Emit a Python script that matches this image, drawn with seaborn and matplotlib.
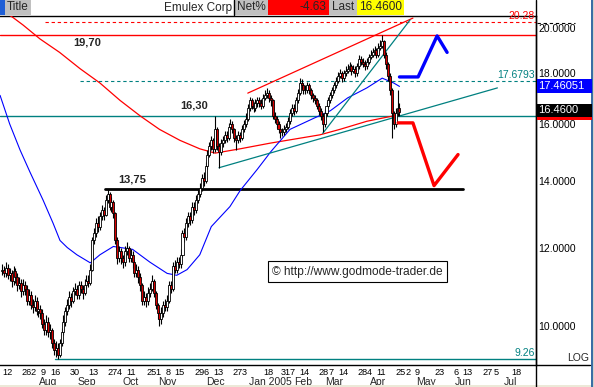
import numpy as np
import pandas as pd
import matplotlib
matplotlib.use("Agg")
import matplotlib.pyplot as plt
import matplotlib.transforms as mtransforms
from matplotlib.patches import Rectangle
from matplotlib.lines import Line2D
from matplotlib.ticker import NullLocator, NullFormatter
import seaborn as sns

# ---------------- data ----------------
START = "2004-07-12"
first_open = 11.35
close = [11.40, 11.30, 11.45, 11.25, 11.30, 11.10, 11.35, 11.20, 11.00, 11.05,
         10.85, 11.00, 10.90, 10.60, 10.75, 10.50, 10.45, 10.60, 10.35, 10.40,
         10.30, 10.05, 9.90, 10.10, 9.85, 9.90, 9.60, 9.45, 9.50, 9.35,
         9.60, 9.85, 10.10, 10.35, 10.50, 10.70, 10.60, 10.85, 10.90, 10.75,
         11.00, 10.90, 10.80, 11.00, 11.10, 11.05, 11.40, 12.20, 12.40, 12.70,
         12.60, 12.90, 13.10, 12.95, 13.40, 13.60, 13.20, 13.35, 13.00, 12.20,
         11.70, 11.90, 11.70, 11.60, 11.90, 12.00, 11.70, 11.80, 11.60, 11.30,
         11.40, 11.20, 11.00, 10.60, 10.70, 10.60, 10.80, 10.90, 11.10, 10.80,
         10.50, 10.30, 10.15, 10.30, 10.50, 10.45, 10.60, 11.00, 10.90, 11.50,
         11.40, 11.60, 11.55, 11.80, 12.40, 12.30, 12.70, 12.90, 12.80, 13.20,
         13.10, 13.40, 13.60, 13.80, 14.10, 14.00, 14.50, 14.90, 15.20, 15.40,
         15.10, 15.80, 15.20, 15.00, 15.30, 15.40, 15.60, 15.50, 15.90, 16.00,
         15.80, 15.50, 15.40, 15.60, 15.50, 15.80, 16.00, 16.20, 16.60, 16.90,
         16.70, 16.60, 16.80, 16.90, 16.80, 16.70, 17.00, 17.10, 17.20, 17.00,
         16.90, 16.30, 16.20, 16.00, 15.80, 15.70, 15.70, 15.80, 15.90, 16.10,
         16.40, 16.60, 16.50, 16.90, 17.20, 17.60, 17.50, 17.30, 17.30, 17.50,
         17.30, 17.10, 17.00, 16.90, 16.70, 16.50, 16.30, 16.00, 16.40, 16.70,
         16.90, 17.10, 17.30, 17.50, 17.70, 17.90, 18.00, 17.80, 18.00, 18.10,
         18.20, 18.30, 18.10, 18.20, 18.00, 18.30, 18.60, 18.50, 18.40, 18.30,
         18.50, 18.70, 18.80, 18.90, 19.00, 18.80, 19.10, 19.20, 19.40, 18.80,
         18.40, 17.90, 17.30, 16.40, 16.00, 16.40, 16.60, 16.46]
high = [11.55, 11.50, 11.60, 11.55, 11.45, 11.40, 11.50, 11.45, 11.30, 11.20,
        11.15, 11.15, 11.10, 11.00, 10.90, 10.85, 10.65, 10.75, 10.70, 10.55,
        10.50, 10.40, 10.15, 10.25, 10.20, 10.05, 9.95, 9.70, 9.65, 9.60,
        9.70, 9.95, 10.25, 10.45, 10.65, 10.85, 10.80, 10.95, 11.05, 11.00,
        11.10, 11.10, 11.00, 11.15, 11.25, 11.25, 11.55, 12.30, 12.55, 12.85,
        12.90, 13.05, 13.25, 13.20, 13.55, 13.75, 13.65, 13.50, 13.40, 13.05,
        12.30, 12.05, 12.00, 11.80, 12.05, 12.15, 12.05, 11.95, 11.90, 11.65,
        11.55, 11.50, 11.30, 11.05, 10.85, 10.80, 10.95, 11.05, 11.25, 11.15,
        10.85, 10.55, 10.35, 10.45, 10.60, 10.65, 10.75, 11.10, 11.10, 11.60,
        11.65, 11.75, 11.75, 11.95, 12.50, 12.55, 12.85, 13.05, 13.05, 13.35,
        13.35, 13.55, 13.75, 13.95, 14.25, 14.30, 14.65, 15.05, 15.35, 15.55,
        15.50, 16.30, 15.90, 15.30, 15.45, 15.55, 15.75, 15.75, 16.05, 16.20,
        16.10, 15.85, 15.60, 15.75, 15.70, 15.95, 16.15, 16.40, 16.75, 17.05,
        17.00, 16.85, 16.95, 17.05, 17.05, 16.95, 17.15, 17.30, 17.40, 17.30,
        17.10, 16.95, 16.45, 16.30, 16.10, 15.95, 15.85, 15.95, 16.05, 16.25,
        16.55, 16.75, 16.75, 17.05, 17.35, 17.80, 17.75, 17.60, 17.50, 17.65,
        17.60, 17.40, 17.20, 17.10, 17.00, 16.80, 16.60, 16.40, 16.55, 16.85,
        17.05, 17.25, 17.45, 17.65, 17.85, 18.05, 18.20, 18.10, 18.15, 18.30,
        18.40, 18.50, 18.40, 18.35, 18.30, 18.45, 18.80, 18.75, 18.65, 18.55,
        18.65, 18.85, 19.00, 19.10, 19.20, 19.10, 19.30, 19.45, 19.70, 19.45,
        18.90, 18.50, 18.00, 17.40, 16.50, 16.60, 17.30, 16.80]
low = [11.25, 11.20, 11.20, 11.15, 11.10, 10.95, 11.00, 11.05, 10.85, 10.90,
       10.70, 10.75, 10.75, 10.50, 10.50, 10.40, 10.30, 10.35, 10.25, 10.20,
       10.15, 9.95, 9.80, 9.80, 9.75, 9.70, 9.50, 9.35, 9.30, 9.26,
       9.30, 9.55, 9.80, 10.00, 10.25, 10.40, 10.45, 10.55, 10.75, 10.65,
       10.65, 10.80, 10.65, 10.75, 10.90, 10.95, 11.00, 11.35, 12.10, 12.30,
       12.45, 12.50, 12.80, 12.80, 12.90, 13.30, 13.10, 13.05, 12.85, 12.10,
       11.55, 11.60, 11.55, 11.45, 11.50, 11.80, 11.60, 11.60, 11.45, 11.20,
       11.20, 11.05, 10.85, 10.50, 10.50, 10.45, 10.50, 10.70, 10.85, 10.70,
       10.40, 10.15, 10.00, 10.05, 10.20, 10.35, 10.35, 10.55, 10.80, 10.85,
       11.30, 11.30, 11.45, 11.45, 11.75, 12.15, 12.20, 12.60, 12.65, 12.70,
       12.95, 13.00, 13.30, 13.50, 13.70, 13.85, 13.95, 14.40, 14.80, 15.05,
       14.95, 15.00, 15.05, 14.45, 14.90, 15.15, 15.30, 15.35, 15.40, 15.80,
       15.65, 15.35, 15.05, 15.30, 15.35, 15.40, 15.70, 15.90, 16.10, 16.50,
       16.55, 16.45, 16.50, 16.65, 16.65, 16.55, 16.60, 16.90, 17.00, 16.85,
       16.70, 16.20, 16.05, 15.85, 15.65, 15.50, 15.55, 15.60, 15.70, 15.80,
       16.00, 16.30, 16.35, 16.40, 16.80, 17.10, 17.35, 17.15, 17.15, 17.20,
       17.15, 16.95, 16.85, 16.75, 16.55, 16.35, 16.15, 15.70, 15.90, 16.30,
       16.60, 16.80, 17.00, 17.20, 17.40, 17.60, 17.80, 17.65, 17.70, 17.90,
       18.00, 18.10, 17.95, 18.00, 17.85, 17.90, 18.20, 18.35, 18.25, 18.15,
       18.20, 18.40, 18.60, 18.70, 18.80, 18.65, 18.70, 19.00, 19.10, 18.65,
       18.20, 17.70, 17.10, 15.50, 15.80, 15.90, 16.30, 16.30]

# moving averages (trading-day number, value)
ma_short_day = [-1, 4, 9.4, 14.6, 21.4, 26.6, 30.2, 34, 39, 46, 51, 58, 68, 77, 86,
                91, 96.4, 103, 109, 118.7, 124, 133, 140, 150, 162, 171, 180, 190,
                198, 204, 207]
ma_short_val = [17.1, 16.0, 15.06, 14.3, 13.4, 12.7, 12.2, 12.0, 11.8, 11.58, 11.8,
                12.03, 11.95, 11.6, 11.3, 11.25, 11.4, 11.8, 12.6, 13.2, 13.7, 14.4,
                15.0, 15.8, 16.2, 16.5, 17.0, 17.4, 17.8, 17.6, 17.46051]
ma_long_day = [-1, 5.7, 11, 19.8, 30, 40.6, 51, 61.5, 72, 82, 92.7, 103, 111, 124,
               139.6, 165.6, 176, 190, 203.6, 207]
ma_long_val = [20.9, 20.5, 20.14, 19.5, 18.9, 18.2, 17.6, 16.9, 16.3, 15.8, 15.4,
               15.1, 14.95, 15.1, 15.3, 15.6, 15.8, 16.1, 16.3, 16.4]

# trend lines (start day, start price, end day, end price)
wedge_top = (128, 17.19, 214, 20.47)
wedge_bottom = (113, 14.45, 258, 17.40)
steep_line = (167, 15.65, 212.5, 20.38)

# horizontal levels
lvl_2028, lvl_1970, lvl_17679, lvl_1630, lvl_1375, lvl_926 = 20.28, 19.70, 17.6793, 16.30, 13.75, 9.26

# projections
blue_proj_day = [207, 216.7, 226.6, 231.8]
blue_proj_val = [17.85, 17.85, 19.64, 18.90]
red_proj_day = [206.3, 214, 225, 237.5]
red_proj_val = [16.04, 16.04, 13.86, 14.90]

tick_dates = ["2004-07-12", "2004-07-26", "2004-08-02", "2004-08-09", "2004-08-16",
              "2004-08-30", "2004-09-13", "2004-09-27", "2004-10-04", "2004-10-11",
              "2004-10-25", "2004-11-01", "2004-11-08", "2004-11-15", "2004-11-29",
              "2004-12-06", "2004-12-13", "2004-12-27", "2005-01-03", "2005-01-18",
              "2005-01-31", "2005-02-07", "2005-02-14", "2005-02-28", "2005-03-07",
              "2005-03-14", "2005-03-28", "2005-04-04", "2005-04-11", "2005-04-25",
              "2005-05-02", "2005-05-09", "2005-05-23", "2005-06-06", "2005-06-13",
              "2005-06-27", "2005-07-05", "2005-07-18"]
month_dates = ["2004-08-13", "2004-09-10", "2004-10-13", "2004-11-09", "2004-12-14",
               "2005-01-24", "2005-02-16", "2005-03-10", "2005-04-12", "2005-05-17",
               "2005-06-13", "2005-07-18"]
month_labels = ["Aug", "Sep", "Oct", "Nov", "Dec", "Jan 2005", "Feb", "Mar", "Apr",
                "May", "Jun", "Jul"]
y_ticks = [10, 12, 14, 16, 18, 20]

# ---------------- figure ----------------
sns.set_style("white")
plt.rcParams["font.family"] = ["Liberation Sans", "DejaVu Sans"]

W, H = 594, 387
fig = plt.figure(figsize=(W / 100, H / 100), dpi=100)
fig.patch.set_facecolor("white")
ax = fig.add_axes([0, 22 / H, 536 / W, 349 / H])
ax.set_facecolor("white")
ax.set_yscale("log")

TEAL = "#008080"
RED = "#ff0000"

idx = np.arange(len(close))
c = np.array(close)
o = np.array([first_open] + close[:-1])
blo = np.minimum(o, c)
bhi = np.maximum(o, c)
colors = np.where(c >= o, "white", "#d80000")

# horizontal levels
ax.axhline(lvl_1970, color=RED, lw=1.0, zorder=2)
ax.axhline(lvl_1630, color=TEAL, lw=1.0, zorder=2)
ax.plot([22.4, 279], [lvl_2028] * 2, color=RED, lw=0.8, ls=(0, (3, 2.5)), zorder=2)
ax.plot([40.6, 279], [lvl_17679] * 2, color=TEAL, lw=0.8, ls=(0, (3, 2.5)), zorder=2)
ax.plot([27.6, 279], [lvl_926] * 2, color=TEAL, lw=1.0, zorder=2)
ax.plot([53.6, 240], [lvl_1375] * 2, color="black", lw=2.0, zorder=2)

# moving averages
sns.lineplot(x=ma_long_day, y=ma_long_val, ax=ax, color=RED, lw=0.9, zorder=3)
sns.lineplot(x=ma_short_day, y=ma_short_val, ax=ax, color="#0000ff", lw=0.8, zorder=3)

# trend lines
for (d0, p0, d1, p1), col in [(wedge_top, RED), (wedge_bottom, TEAL), (steep_line, TEAL)]:
    ax.plot([d0, d1], [p0, p1], color=col, lw=0.9, zorder=3)

# candles
ax.vlines(idx, low, high, color="black", lw=0.8, zorder=4)
ax.bar(idx, np.maximum(bhi - blo, 0.03), bottom=blo, width=1.05, color=colors,
       edgecolor="black", linewidth=0.6, zorder=5)

# projections
sns.lineplot(x=blue_proj_day, y=blue_proj_val, ax=ax, color="#0000ff", lw=2.4,
             sort=False, estimator=None, zorder=6)
sns.lineplot(x=red_proj_day, y=red_proj_val, ax=ax, color=RED, lw=2.4,
             sort=False, estimator=None, zorder=6)

ax.set_xlim(-1.04, 278.1)
ax.set_ylim(9.13, 20.57)

# axes styling
ax.spines["left"].set_visible(False)
for s in ["top", "right", "bottom"]:
    ax.spines[s].set_visible(True)
    ax.spines[s].set_color("black")
    ax.spines[s].set_linewidth(1.0)

ax.yaxis.tick_right()
ax.set_yticks(y_ticks)
ax.set_yticklabels([f"{v:.4f}" for v in y_ticks])
ax.yaxis.set_minor_locator(NullLocator())
ax.yaxis.set_minor_formatter(NullFormatter())
ax.tick_params(axis="y", length=0, pad=1.5, labelsize=7.5, colors="black")

start = np.datetime64(START)
tick_pos = [np.busday_count(start, np.datetime64(d)) for d in tick_dates]
ax.set_xticks(tick_pos)
ax.set_xticklabels([str(int(d[-2:])) for d in tick_dates])
for lab in ax.get_xticklabels():
    lab.set_ha("left")
ax.tick_params(axis="x", length=0, pad=2, labelsize=6.6, colors="black")
ax.set_xlabel("")
ax.set_ylabel("")

trans_x = mtransforms.blended_transform_factory(ax.transData, ax.transAxes)
for d, lab in zip(month_dates, month_labels):
    p = np.busday_count(start, np.datetime64(d))
    ax.text(p, -0.034, lab, transform=trans_x, ha="center", va="top", fontsize=7.5)

# level labels
ax.annotate("19,70", (37, lvl_1970), xytext=(0, -2), textcoords="offset points",
            ha="left", va="top", fontsize=8, fontweight="bold", zorder=7)
ax.annotate("16,30", (92.7, lvl_1630), xytext=(0, 4), textcoords="offset points",
            ha="left", va="bottom", fontsize=8, fontweight="bold", zorder=7)
ax.annotate("13,75", (60.4, lvl_1375), xytext=(0, 3), textcoords="offset points",
            ha="left", va="bottom", fontsize=8, fontweight="bold", zorder=7)

trans_y = mtransforms.blended_transform_factory(ax.transAxes, ax.transData)
ax.annotate(f"{lvl_2028:.2f}", (1.0, lvl_2028), xycoords=trans_y, xytext=(-1, 1),
            textcoords="offset points", ha="right", va="bottom", color=RED, fontsize=7.5)
ax.annotate(f"{lvl_17679:.4f}", (1.0, lvl_17679), xycoords=trans_y, xytext=(-1, 1),
            textcoords="offset points", ha="right", va="bottom", color=TEAL, fontsize=7.5)
ax.annotate(f"{lvl_926:.2f}", (1.0, lvl_926), xycoords=trans_y, xytext=(-1, 1),
            textcoords="offset points", ha="right", va="bottom", color=TEAL, fontsize=7.5)

# copyright box
ax.text(272 / 536, (365 - 271.5) / 349, "\u00a9 http://www.godmode-trader.de",
        transform=ax.transAxes, ha="left", va="center", fontsize=8.6, zorder=8,
        bbox=dict(facecolor="white", edgecolor="black", linewidth=0.8,
                  boxstyle="square,pad=0.35"))


# ---------------- figure-level decorations (pixel helpers) ----------------
def frect(x0, y0, x1, y1, color, z=10):
    fig.add_artist(Rectangle((x0 / W, 1 - y1 / H), (x1 - x0) / W, (y1 - y0) / H,
                             transform=fig.transFigure, facecolor=color,
                             edgecolor="none", zorder=z))


def fline(x0, y0, x1, y1, color="black", lw=1.0, ls="-", z=11):
    fig.add_artist(Line2D([x0 / W, x1 / W], [1 - y0 / H, 1 - y1 / H],
                          transform=fig.transFigure, color=color, lw=lw, ls=ls, zorder=z))


def ftext(x, y, s, **kw):
    kw.setdefault("zorder", 15)
    fig.text(x / W, 1 - y / H, s, **kw)


# header
frect(0, 0, 5, 15, "#1f5fd6")
frect(5, 0, 31, 15, "#c0c0c0")
frect(235, 0, 268, 15, "#c0c0c0")
frect(268, 0, 329, 15, "#ff0000")
frect(329, 0, 357, 15, "#c0c0c0")
frect(357, 0, 404, 15, "#ffff00")
fline(234, 0, 234, 15)
ftext(18, 7.5, "Title", ha="center", va="center", fontsize=8.5)
ftext(232, 7.5, "Emulex Corp", ha="right", va="center", fontsize=8.5)
ftext(251.5, 7.5, "Net%", ha="center", va="center", fontsize=8.5)
ftext(326, 7.5, "-4.63", ha="right", va="center", fontsize=8.5)
ftext(343, 7.5, "Last", ha="center", va="center", fontsize=8.5)
ftext(380.5, 7.5, "16.4600", ha="center", va="center", fontsize=8.5)

# right axis line up to the top, bottom line extension
fline(536, 0, 536, 387, lw=1.0)
fline(536, 365, 590, 365, lw=1.0)
fline(537, 23, 575, 23, lw=0.8, ls=(0, (3, 2.5)))
frect(591, 0, 593, 387, "#3a6ea5")
frect(593, 0, 594, 387, "#d4d0c8")
frect(0, 385, 591, 387, "#ece9d8")
ftext(589, 363, "LOG", ha="right", va="bottom", fontsize=7.5)

# value flags on the right axis
fig.canvas.draw()


def ypix(v):
    return H - ax.transData.transform((0, v))[1]


yb = ypix(ma_short_val[-1])
frect(537, yb - 7, 592, yb + 6.5, "#0000ff", z=12)
ftext(538, yb, f"{ma_short_val[-1]:.5f}", ha="left", va="center", color="white",
      fontsize=8)
yk = ypix(close[-1])
frect(537, yk - 8, 592, yk + 5, "black", z=12)
frect(537, yk + 5, 592, yk + 8, "#ff0000", z=12)
ftext(538, yk - 1.5, f"{close[-1]:.4f}", ha="left", va="center", color="white",
      fontsize=8)

fig.savefig("out.png", dpi=100)
